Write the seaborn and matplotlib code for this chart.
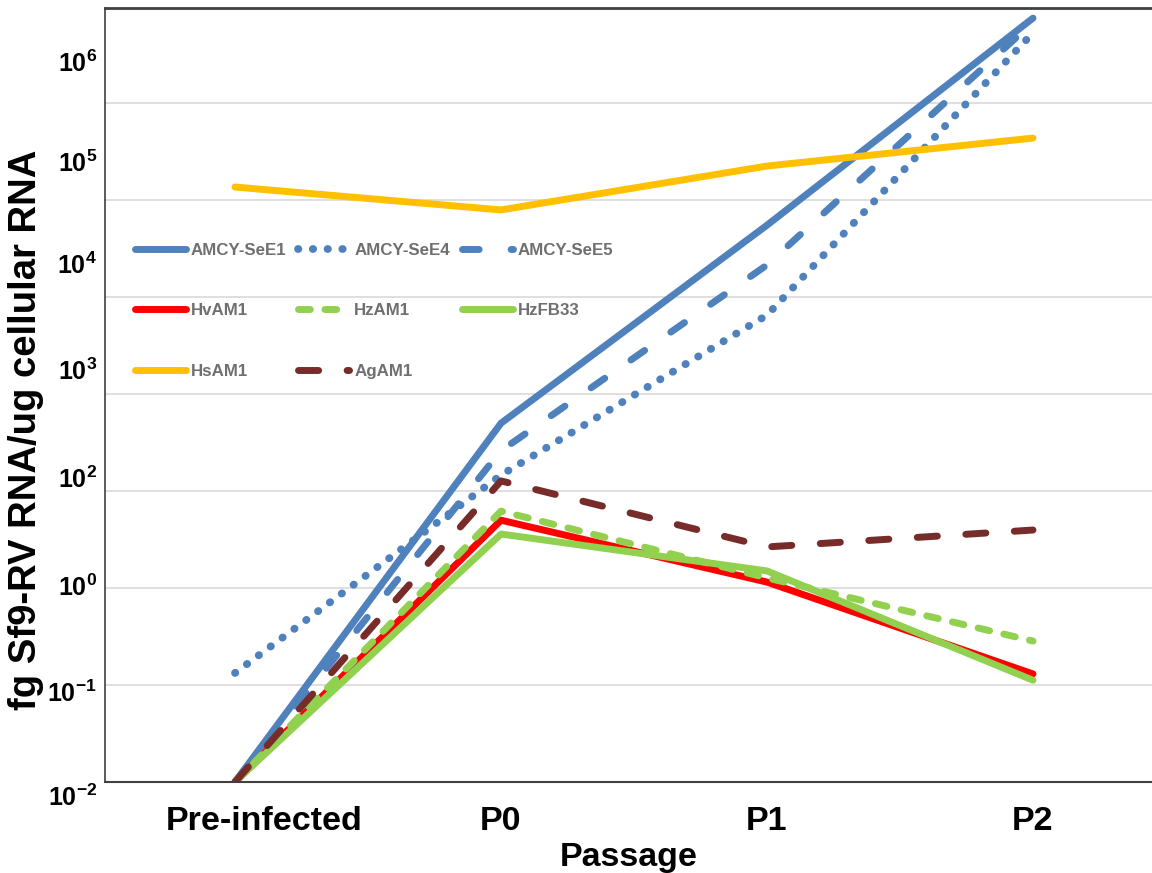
import numpy as np
import pandas as pd
import matplotlib
matplotlib.use("Agg")
import matplotlib.pyplot as plt
import seaborn as sns
from matplotlib.ticker import NullLocator, FixedLocator, NullFormatter
from matplotlib.transforms import ScaledTranslation, blended_transform_factory

# ---------------- data ----------------
passages = ["Pre-infected", "P0", "P1", "P2"]
amcy_see1 = [0.01, 50, 5500, 7.5e5]
amcy_see4 = [0.133, 14.6, 650, 5.3e5]
amcy_see5 = [0.01, 26, 2140, 6.8e5]
hvam1 = [0.01, 5.0, 1.15, 0.13]
hzam1 = [0.01, 6.2, 1.27, 0.284]
hzfb33 = [0.01, 3.6, 1.5, 0.112]
hsam1 = [13600, 7900, 22400, 43500]
agam1 = [0.01, 12.7, 2.65, 3.96]

series_names = ["AMCY-SeE1", "AMCY-SeE4", "AMCY-SeE5", "HvAM1",
                "HzAM1", "HzFB33", "HsAM1", "AgAM1"]
series_values = [amcy_see1, amcy_see4, amcy_see5, hvam1,
                 hzam1, hzfb33, hsam1, agam1]

ytick_exponents = ["6", "5", "4", "3", "2", "0", "-1", "-2"]

# ---------------- styles ----------------
colors = {
    "AMCY-SeE1": "#4F81BD", "AMCY-SeE4": "#4F81BD", "AMCY-SeE5": "#4F81BD",
    "HvAM1": "#FF0000", "HzAM1": "#92D050", "HzFB33": "#92D050",
    "HsAM1": "#FFC000", "AgAM1": "#772C2A",
}
styles = {
    "AMCY-SeE1": "-",
    "AMCY-SeE4": (0, (0.05, 1.85)),
    "AMCY-SeE5": (0, (2.4, 4.6)),
    "HvAM1": "-",
    "HzAM1": (0, (1.7, 2.1)),
    "HzFB33": "-",
    "HsAM1": "-",
    "AgAM1": (0, (2.9, 4.1)),
}
widths = {n: 5.0 for n in series_names}
widths["AMCY-SeE4"] = 5.6
# pixel positions (centre of the "10" part) of the y tick texts in the layout
ytick_label_px = [63, 163, 265, 372, 480, 588, 693, 798]

df = pd.DataFrame({
    "Passage": np.tile(passages, len(series_names)),
    "value": np.concatenate(series_values),
    "series": np.repeat(series_names, len(passages)),
})

sns.set_style("white")
plt.rcParams["font.family"] = ["Liberation Sans", "DejaVu Sans"]
plt.rcParams["mathtext.fontset"] = "custom"
plt.rcParams["mathtext.bf"] = "Liberation Sans:bold"
plt.rcParams["mathtext.rm"] = "Liberation Sans:bold"
plt.rcParams["mathtext.it"] = "Liberation Sans:bold:italic"
for k in ["text.color", "axes.labelcolor", "xtick.color", "ytick.color"]:
    plt.rcParams[k] = "black"

W, H = 1152, 873
fig = plt.figure(figsize=(W / 100, H / 100), dpi=100)
ax_left, ax_bottom, ax_top = 105, 782, 8
ax = fig.add_axes([ax_left / W, (H - ax_bottom) / H, (W - ax_left) / W,
                   (ax_bottom - ax_top) / H])
ax.set_yscale("log")

for name in series_names:
    sub = df[df["series"] == name]
    sns.lineplot(data=sub, x="Passage", y="value", ax=ax, color=colors[name],
                 linewidth=widths[name], linestyle=styles[name], sort=False,
                 errorbar=None, legend=False, label=name,
                 solid_capstyle="round", dash_capstyle="round",
                 solid_joinstyle="round")

dec = 97.0  # pixels per decade
ymin = 1e-2
ymax = 10 ** ((ax_bottom - ax_top) / dec - 2)
ax.set_ylim(ymin, ymax)
ax.set_xlim((ax_left - 235) / 266.0, (W - 235) / 266.0)

# gridlines at decades
ax.yaxis.set_major_locator(FixedLocator([10.0 ** k for k in range(-1, 6)]))
ax.yaxis.set_minor_locator(NullLocator())
ax.yaxis.set_major_formatter(NullFormatter())
ax.grid(axis="y", color="#D9D9D9", linewidth=1.2)
ax.grid(axis="x", visible=False)
ax.tick_params(axis="y", length=0)
ax.tick_params(axis="x", length=0, pad=17)

# y tick texts as drawn in the reference
trans = blended_transform_factory(ax.transAxes, ax.transData)
for exp_txt, py in zip(ytick_exponents, ytick_label_px):
    yv = 10 ** ((ax_bottom - (py + 8.5)) / dec - 2)
    ax.text(-8 / (W - ax_left), yv, r"$\mathbf{10^{%s}}$" % exp_txt,
            transform=trans, ha="right", va="baseline", fontsize=18,
            color="black", clip_on=False)

ax.set_xticks(range(len(passages)))
ax.set_xticklabels(passages, fontsize=24.5, fontweight="bold", color="black")
lab0 = ax.get_xticklabels()[0]
lab0.set_transform(lab0.get_transform() +
                   ScaledTranslation(29 / 100, 0, fig.dpi_scale_trans))

ax.set_xlabel("Passage", fontsize=24.5, fontweight="bold", labelpad=4,
              color="black")
ax.set_ylabel("fg Sf9-RV RNA/ug cellular RNA", fontsize=27.5,
              fontweight="bold", color="black")
ax.yaxis.set_label_coords(-0.058, 0.455)

for s in ["left", "bottom", "top"]:
    ax.spines[s].set_visible(True)
    ax.spines[s].set_color("#404040")
ax.spines["left"].set_linewidth(1.2)
ax.spines["bottom"].set_linewidth(1.5)
ax.spines["top"].set_linewidth(2.0)
ax.spines["right"].set_visible(False)

lines = {ln.get_label(): ln for ln in ax.get_lines()}
order = ["AMCY-SeE1", "HvAM1", "HsAM1", "AMCY-SeE4", "HzAM1", "AgAM1",
         "AMCY-SeE5", "HzFB33"]
leg = ax.legend([lines[n] for n in order], order, ncol=3, loc="upper left",
                bbox_to_anchor=(30 / (W - ax_left), 0.697), frameon=False,
                prop={"weight": "bold", "size": 12.2},
                handlelength=3.0, handletextpad=0.3, columnspacing=0.7,
                labelspacing=2.7, borderpad=0, borderaxespad=0)
for t in leg.get_texts():
    t.set_color("#6F6F6F")

fig.savefig("out.png", dpi=100)
